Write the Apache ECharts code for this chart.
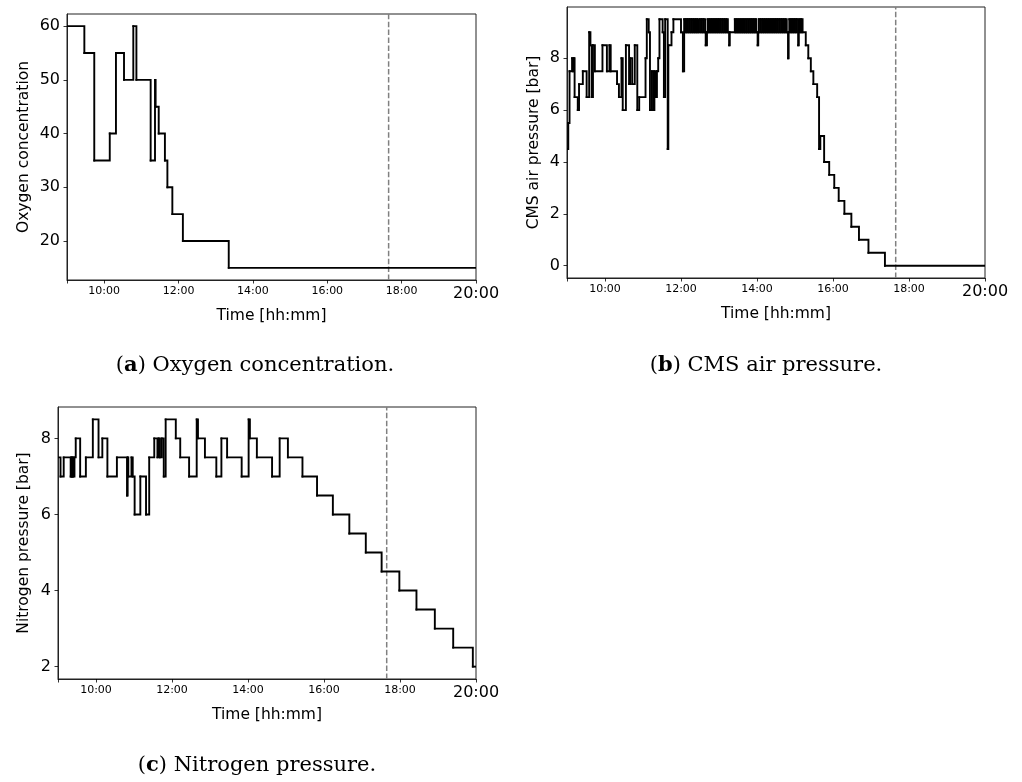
<!DOCTYPE html>
<html>
<head>
<meta charset="utf-8">
<script src="https://cdn.jsdelivr.net/npm/echarts@6/dist/echarts.min.js"></script>
<style>
html,body{margin:0;padding:0;background:#fff;}
#chart{width:1022px;height:782px;}
</style>
</head>
<body>
<div id="chart"></div>
<script>
// ---------- data ----------
const oxygenData = [
  ["09:00",60],["09:28",55],["09:44",35],["10:09",40],["10:19",55],["10:32",50],
  ["10:47",60],["10:52",50],["11:15",35],["11:22",50],["11:23",45],["11:28",40],
  ["11:38",35],["11:42",30],["11:50",25],["12:07",20],["13:21",15],["20:00",15]
];

const cmsData = [
  ["09:00",4.5],["09:02",5.5],["09:04",7.5],["09:08",8],["09:10",7.5],["09:11",8],
  ["09:12",6.5],["09:17",6],["09:19",7],["09:25",7.5],["09:31",6.5],["09:35",9],
  ["09:37",8.5],["09:39",6.5],["09:41",8.5],["09:44",7.5],["09:56",8.5],["10:03",7.5],
  ["10:07",8.5],["10:09",7.5],["10:19",7],["10:22",6.5],["10:26",8],["10:28",6],
  ["10:33",8.5],["10:38",7],["10:40",8],["10:43",7],["10:47",8.5],["10:51",6],
  ["10:54",6.5],["11:04",8],["11:06",9.5],["11:09",9],["11:11",6],["11:14",7.5],
  ["11:16",6],["11:18",7.5],["11:20",6.5],["11:22",7.5],["11:24",8],["11:26",9.5],
  ["11:31",9],["11:33",6.5],["11:35",9.5],["11:39",4.5],["11:40",8.5],["11:45",9],
  ["11:48",9.5],["12:00",9],["12:03",7.5],["12:05",9.5],
  ["12:07",9],["12:08",9.5],["12:10",9],["12:11",9.5],["12:13",9],["12:14",9.5],
  ["12:16",9],["12:17",9.5],["12:19",9],["12:20",9.5],["12:22",9],["12:23",9.5],
  ["12:25",9],["12:26",9.5],["12:28",9],["12:30",9.5],["12:32",9],["12:33",9.5],
  ["12:35",9],["12:36",9.5],["12:38",9],["12:39",8.5],["12:41",9],["12:42",9.5],
  ["12:44",9],["12:45",9.5],["12:47",9],["12:48",9.5],["12:50",9],["12:51",9.5],
  ["12:53",9],["12:54",9.5],["12:56",9],["12:57",9.5],["12:59",9],["13:00",9.5],
  ["13:02",9],["13:03",9.5],["13:05",9],["13:06",9.5],["13:08",9],["13:09",9.5],
  ["13:11",9],["13:12",9.5],["13:14",9],["13:16",8.5],["13:17",9],["13:25",9.5],
  ["13:26",9],["13:28",9.5],["13:29",9],["13:31",9.5],["13:32",9],["13:34",9.5],
  ["13:35",9],["13:37",9.5],["13:38",9],["13:40",9.5],["13:41",9],["13:43",9.5],
  ["13:44",9],["13:46",9.5],["13:47",9],["13:49",9.5],["13:50",9],["13:52",9.5],
  ["13:53",9],["13:55",9.5],["13:56",9],["13:58",9.5],["13:59",9],["14:01",8.5],
  ["14:02",9],["14:03",9.5],["14:05",9],["14:06",9.5],["14:08",9],["14:09",9.5],
  ["14:11",9],["14:12",9.5],["14:14",9],["14:15",9.5],["14:17",9],["14:18",9.5],
  ["14:20",9],["14:21",9.5],["14:23",9],["14:24",9.5],["14:26",9],["14:27",9.5],
  ["14:29",9],["14:30",9.5],["14:32",9],["14:33",9.5],["14:35",9],["14:36",9.5],
  ["14:38",9],["14:39",9.5],["14:41",9],["14:42",9.5],["14:44",9],["14:45",9.5],
  ["14:47",9],["14:49",8],["14:50",9],["14:51",9.5],["14:53",9],["14:54",9.5],
  ["14:56",9],["14:57",9.5],["14:59",9],["15:00",9.5],["15:02",9],["15:03",9.5],
  ["15:05",8.5],["15:06",9],["15:07",9.5],["15:09",9],["15:10",9.5],["15:12",9],
  ["15:17",8.5],["15:21",8],["15:25",7.5],["15:29",7],["15:35",6.5],["15:38",4.5],
  ["15:40",5],["15:46",4],["15:54",3.5],["16:02",3],["16:09",2.5],["16:18",2],
  ["16:29",1.5],["16:41",1],["16:56",0.5],["17:22",0],["20:00",0]
];

const nitrogenData = [
  ["09:00",7.5],["09:04",7],["09:09",7.5],["09:20",7],["09:21",7.5],["09:22",7],
  ["09:23",7.5],["09:24",7],["09:26",7.5],["09:28",8],["09:35",7],["09:44",7.5],
  ["09:55",8.5],["10:04",7.5],["10:10",8],["10:18",7],["10:33",7.5],["10:49",6.5],
  ["10:50",7.5],["10:51",7],["10:56",7.5],["10:58",7],["11:01",6],["11:10",7],
  ["11:19",6],["11:24",7.5],["11:32",8],["11:37",7.5],["11:39",8],["11:41",7.5],
  ["11:44",8],["11:47",7],["11:50",8.5],["12:06",8],["12:13",7.5],["12:27",7],
  ["12:39",8.5],["12:41",8],["12:52",7.5],["13:10",7],["13:18",8],["13:27",7.5],
  ["13:50",7],["14:01",8.5],["14:03",8],["14:14",7.5],["14:38",7],["14:50",8],
  ["15:03",7.5],["15:26",7],["15:49",6.5],["16:14",6],["16:40",5.5],["17:06",5],
  ["17:31",4.5],["17:59",4],["18:26",3.5],["18:55",3],["19:24",2.5],["19:55",2],
  ["20:00",2]
];

const markerTime = "17:39";
const xStart = "09:00";
const xEnd = "20:00";
const xTickTimes = ["09:00","10:00","12:00","14:00","16:00","18:00","20:00"];
const xLabelTimes = ["10:00","12:00","14:00","16:00","18:00","20:00"];
const oxygenTicks = [20,30,40,50,60];
const cmsTicks = [0,2,4,6,8];
const nitrogenTicks = [2,4,6,8];

const captions = [
  {letter:"a", text:" Oxygen concentration."},
  {letter:"b", text:" CMS air pressure."},
  {letter:"c", text:" Nitrogen pressure."}
];
const yNames = ["Oxygen concentration","CMS air pressure [bar]","Nitrogen pressure [bar]"];
const xName = "Time [hh:mm]";

// ---------- helpers ----------
function toH(t){ const p = t.split(":"); return +p[0] + (+p[1])/60; }
function fmtH(v){
  const h = Math.round(v*60);
  const hh = Math.floor(h/60), mm = h%60;
  return String(hh).padStart(2,"0")+":"+String(mm).padStart(2,"0");
}
function pad(data){
  const vals = data.map(d=>d[1]);
  const mn = Math.min(...vals), mx = Math.max(...vals);
  const m = (mx-mn)*0.05;
  return [mn-m, mx+m];
}
// each item: [t, value, next t, next value] -> drawn as a post-step
function stepItems(data){
  const out = [];
  for (let i=0;i<data.length-1;i++){
    out.push([toH(data[i][0]), data[i][1], toH(data[i+1][0]), data[i+1][1]]);
  }
  return out;
}

const FONT = "DejaVu Sans";
const grids = [
  {left:67, top:14, width:409, height:266},
  {left:567, top:7, width:418, height:271},
  {left:58, top:407, width:418, height:272}
];
const yNameGaps = [35, 25, 26];
const datasets = [oxygenData, cmsData, nitrogenData];
const yTicks = [oxygenTicks, cmsTicks, nitrogenTicks];
const ranges = datasets.map(pad);

const labelHours = xLabelTimes.map(toH);
const tickHours = xTickTimes.map(toH);
const lastH = toH(xEnd);

const xAxes = grids.map((g,i)=>({
  gridIndex:i, type:'value', min:toH(xStart), max:toH(xEnd), interval:1,
  name:xName, nameLocation:'middle', nameGap:28,
  nameTextStyle:{fontSize:15.5, color:'#000', fontFamily:FONT},
  axisLine:{show:true, onZero:false, lineStyle:{color:'#222', width:1}},
  axisTick:{show:true, length:3.5, customValues:tickHours, lineStyle:{color:'#000', width:0.8}},
  axisLabel:{
    show:true, customValues:labelHours, margin:6, color:'#000', fontFamily:FONT,
    formatter:function(v){
      const s = fmtH(v);
      if (xLabelTimes.indexOf(s) < 0) return '';
      return Math.abs(v-lastH)<1e-6 ? '{b|'+s+'}' : '{s|'+s+'}';
    },
    rich:{
      s:{fontSize:11, color:'#000', fontFamily:FONT},
      b:{fontSize:16, color:'#000', fontFamily:FONT}
    }
  },
  splitLine:{show:false}
}));

const yAxes = grids.map((g,i)=>({
  gridIndex:i, type:'value', min:ranges[i][0], max:ranges[i][1],
  name:yNames[i], nameLocation:'middle', nameGap:yNameGaps[i], nameRotate:90,
  nameTextStyle:{fontSize:15.5, color:'#000', fontFamily:FONT},
  axisLine:{show:true, onZero:false, lineStyle:{color:'#222', width:1}},
  axisTick:{show:true, length:3.5, customValues:yTicks[i], lineStyle:{color:'#000', width:0.8}},
  axisLabel:{show:true, customValues:yTicks[i], margin:7, fontSize:16, color:'#000', fontFamily:FONT},
  splitLine:{show:false}
}));

const series = [];
datasets.forEach((d,i)=>{
  // dashed vertical marker spanning the whole y range
  series.push({
    type:'line', xAxisIndex:i, yAxisIndex:i, symbol:'none', showSymbol:false,
    animation:false, silent:true, z:1,
    lineStyle:{color:'#808080', type:[5.5,2.4], width:1.5},
    data:[[toH(markerTime), ranges[i][0]], [toH(markerTime), ranges[i][1]]]
  });
  // stepped black trace
  series.push({
    type:'custom', xAxisIndex:i, yAxisIndex:i, clip:true, animation:false, silent:true, z:3,
    data:stepItems(d),
    renderItem:function(params, api){
      const a = api.coord([api.value(0), api.value(1)]);
      const b = api.coord([api.value(2), api.value(1)]);
      const c = api.coord([api.value(2), api.value(3)]);
      return {
        type:'polyline',
        shape:{points:[a,b,c]},
        style:{stroke:'#000', lineWidth:1.9, fill:null, lineCap:'square', lineJoin:'miter'}
      };
    }
  });
});

const capPos = [[255,366],[766,366],[257,766]];
const graphic = captions.map((c,i)=>({
  type:'text', x:capPos[i][0], y:capPos[i][1],
  style:{
    text:'({b|'+c.letter+'})'+c.text,
    align:'center', verticalAlign:'middle',
    fontSize:21, fontFamily:'DejaVu Serif', fill:'#000',
    rich:{ b:{fontSize:21, fontFamily:'DejaVu Serif', fontWeight:'bold', fill:'#000'} }
  }
}));

const chart = echarts.init(document.getElementById('chart'), null, {renderer:'canvas'});
chart.setOption({
  animation:false,
  backgroundColor:'#fff',
  grid:grids.map(g=>Object.assign({show:true, borderColor:'#222', borderWidth:1, containLabel:false}, g)),
  xAxis:xAxes,
  yAxis:yAxes,
  series:series,
  graphic:graphic
});
</script>
</body>
</html>
